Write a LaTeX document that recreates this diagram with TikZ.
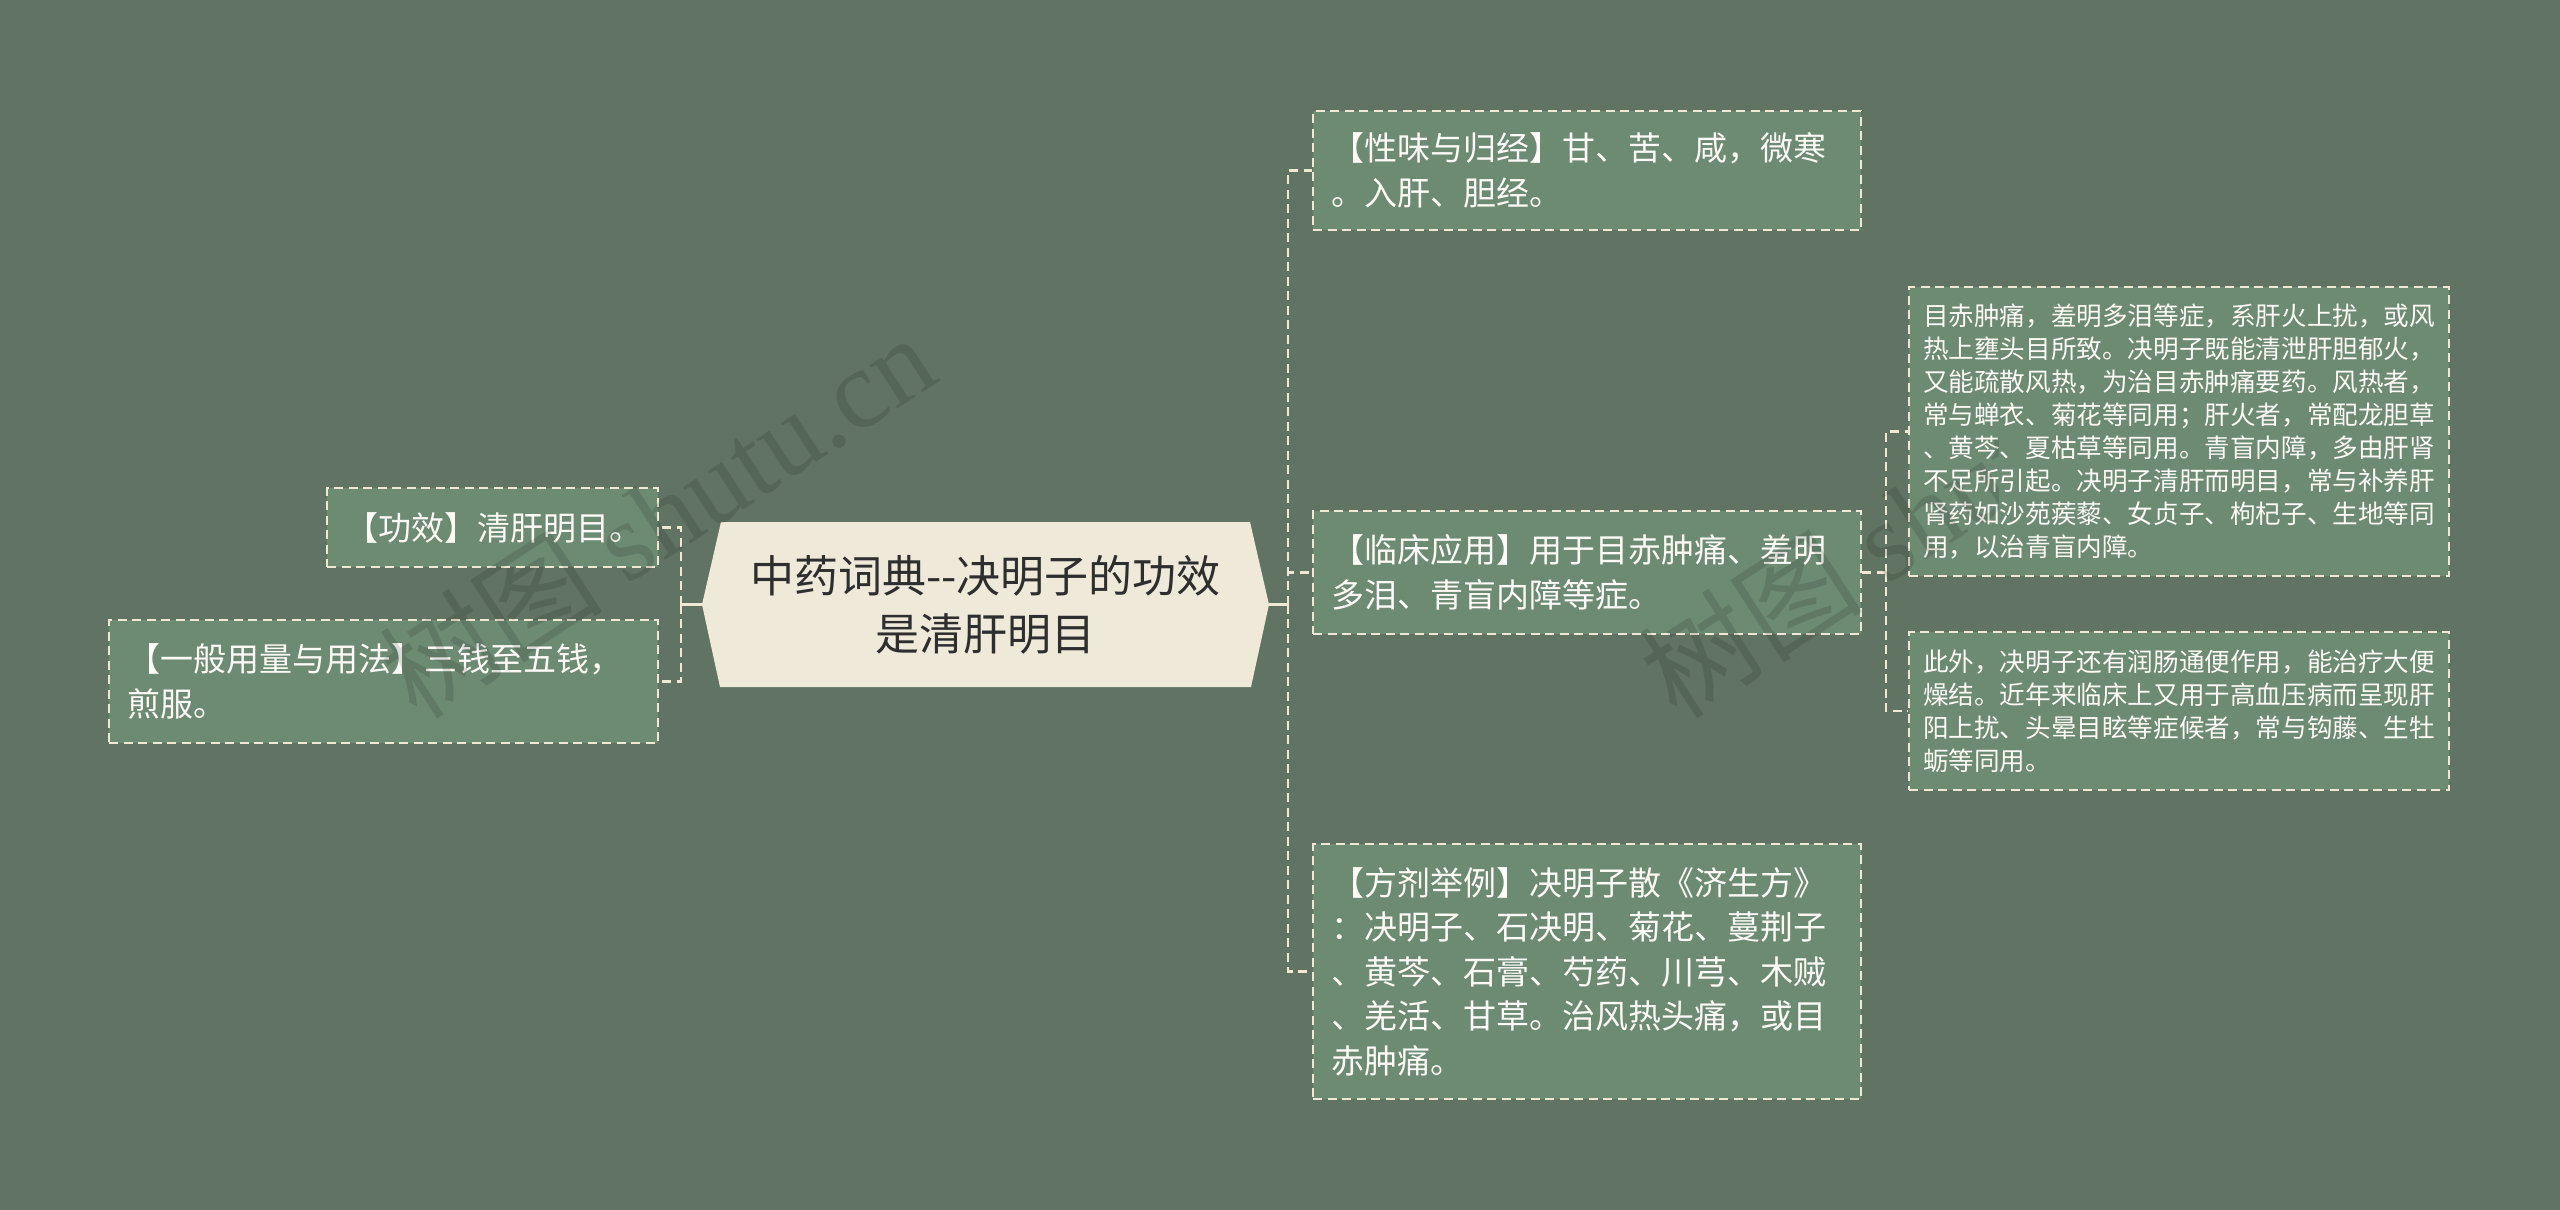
\documentclass[tikz,border=0pt]{standalone}
\usepackage{fontspec}
\newfontfamily\cjk{Noto Sans CJK SC}
\newfontfamily\wmfont{Liberation Serif}
\usetikzlibrary{calc}
\definecolor{bgc}{HTML}{617363}
\definecolor{boxc}{HTML}{6D8A73}
\definecolor{linec}{HTML}{EEE8D5}
\definecolor{ctrc}{HTML}{EFE9DA}
\definecolor{txtc}{HTML}{FCFBF5}
\definecolor{ctrtxt}{HTML}{2E2E2E}
\begin{document}
\begin{tikzpicture}[x=1pt,y=1pt,
  conn/.style={draw=linec, line width=2.5pt, dash pattern=on 9pt off 5.5pt},
  stub/.style={draw=linec, line width=2.5pt},
  topic/.style={draw=linec, line width=2.5pt, dash pattern=on 9pt off 5.5pt,
    fill=boxc, text=txtc, align=left, inner xsep=18pt, inner ysep=0pt,
    font=\cjk\fontsize{33}{44.5}\selectfont},
  small/.style={topic, inner xsep=14pt, font=\cjk\fontsize{25.6}{32.9}\selectfont},
  wmark/.style={rotate=33, text=black, opacity=0.12, inner sep=0pt},
]
\useasboundingbox (0,0) rectangle (2560,-1210);
\fill[bgc] (0,0) rectangle (2560,-1210);

% central topic
\fill[ctrc] (702,-604.5) -- (721,-522) -- (1250,-522) -- (1269,-604.5)
  -- (1251,-687) -- (720,-687) -- cycle;
\node[font=\cjk\fontsize{44}{58}\selectfont, text=ctrtxt, align=center,
  minimum width=567pt, minimum height=165pt, inner sep=0pt] (ctr) at (985.5,-604.5)
  {中药词典--决明子的功效\\是清肝明目};

% left topics
\node[topic, text width=295pt, minimum height=79pt] (gx) at (492.5,-527.5)
  {【功效】清肝明目。};
\node[topic, text width=513pt, minimum height=123pt] (yf) at (383.5,-681.5)
  {【一般用量与用法】三钱至五钱，\\煎服。};

% right topics
\node[topic, text width=512pt, minimum height=119pt] (xw) at (1587,-170.5)
  {【性味与归经】甘、苦、咸，微寒\\。入肝、胆经。};
\node[topic, text width=512pt, minimum height=123pt] (lc) at (1587,-572.5)
  {【临床应用】用于目赤肿痛、羞明\\多泪、青盲内障等症。};
\node[topic, text width=512pt, minimum height=255pt] (fj) at (1587,-971.5)
  {【方剂举例】决明子散《济生方》\\：决明子、石决明、菊花、蔓荆子\\、黄芩、石膏、芍药、川芎、木贼\\、羌活、甘草。治风热头痛，或目\\赤肿痛。};

% sub topics
\node[small, text width=512pt, minimum height=289pt] (s1) at (2179,-431.5)
  {目赤肿痛，羞明多泪等症，系肝火上扰，或风\\热上壅头目所致。决明子既能清泄肝胆郁火，\\又能疏散风热，为治目赤肿痛要药。风热者，\\常与蝉衣、菊花等同用；肝火者，常配龙胆草\\、黄芩、夏枯草等同用。青盲内障，多由肝肾\\不足所引起。决明子清肝而明目，常与补养肝\\肾药如沙苑蒺藜、女贞子、枸杞子、生地等同\\用，以治青盲内障。};
\node[small, text width=512pt, minimum height=158pt] (s2) at (2179,-711)
  {此外，决明子还有润肠通便作用，能治疗大便\\燥结。近年来临床上又用于高血压病而呈现肝\\阳上扰、头晕目眩等症候者，常与钩藤、生牡\\蛎等同用。};

% connectors
\coordinate (lt) at (681,-604.5);
\coordinate (rt) at (1288,-604.5);
\coordinate (rt2) at (1886,-572.5);
\draw[stub] (ctr.west) -- (lt);
\draw[conn] (lt) |- (gx.east);
\draw[conn] (lt) |- (yf.east);
\draw[stub] (ctr.east) -- (rt);
\draw[conn] (rt) |- (xw.west);
\draw[conn] (rt) |- (lc.west);
\draw[conn] (rt) |- (fj.west);
\draw[conn] (lc.east) -- (rt2);
\draw[conn] (rt2) |- (s1.west);
\draw[conn] (rt2) |- (s2.west);

% watermarks
\node[wmark] (wm1) at (657,-515)
  {\cjk\fontsize{112}{112}\selectfont 树图 \wmfont shutu.cn};
\begin{scope}
\clip (1500,-300) rectangle (1998,-820);
\node[wmark] (wm2) at (1917,-515)
  {\cjk\fontsize{112}{112}\selectfont 树图 \wmfont shutu.cn};
\end{scope}
\end{tikzpicture}
\end{document}
